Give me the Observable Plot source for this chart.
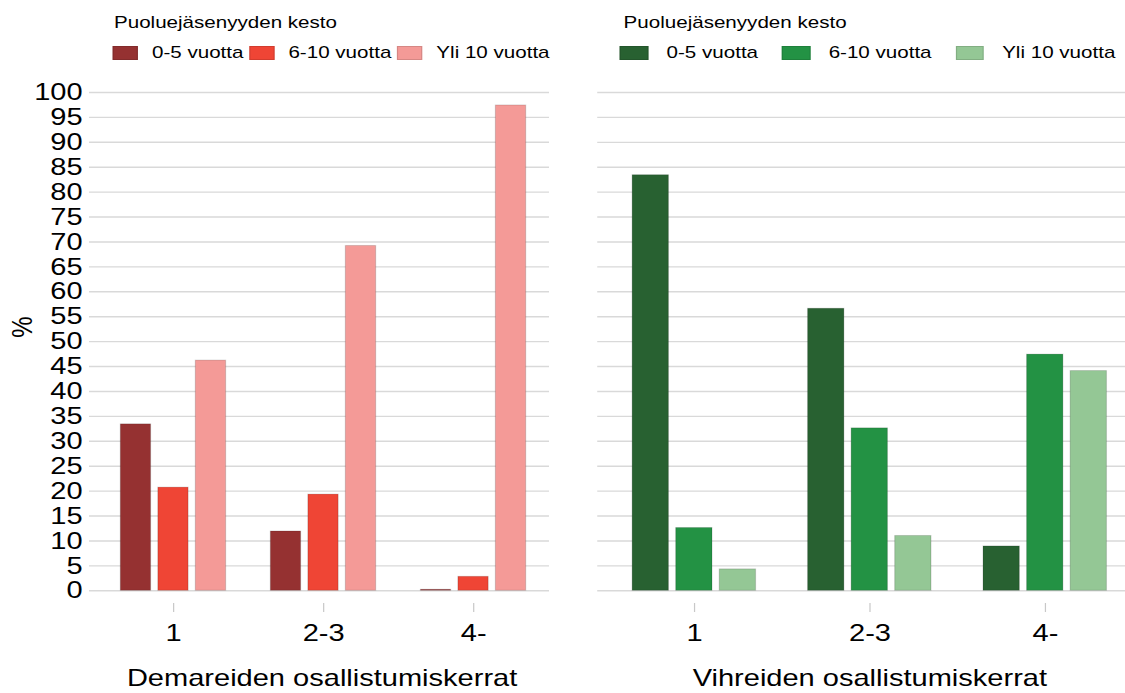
<!DOCTYPE html>
<html>
<head>
<meta charset="utf-8">
<script src="https://cdn.jsdelivr.net/npm/d3@7"></script>
<script src="https://cdn.jsdelivr.net/npm/@observablehq/plot@0.6"></script>
<style>
  html, body { margin: 0; padding: 0; background: #fff; overflow: hidden; }
  #stage { position: absolute; left: 0; top: 0; height: 693px; transform-origin: 0 0;
           font-family: "Liberation Sans", Arial, sans-serif; color: #000; }
  .panel { position: absolute; top: 0; }
  .panel svg { overflow: visible; position: absolute; left: 0; top: 0; }
  .legend { position: absolute; font-size: 17px; line-height: 18px; white-space: nowrap; }
  .legend .ltitle { height: 18px; }
  .legend .row { display: flex; align-items: center; height: 18px; margin-top: 12px; }
  .legend .item { display: flex; align-items: center; }
  .legend .sw { height: 14px; box-sizing: border-box; border: 1px solid rgba(0,0,0,0.12); }
</style>
</head>
<body>
<div id="stage"></div>
<script>
// ---- data ----
const groups = ["1", "2-3", "4-"];
const series = ["0-5 vuotta", "6-10 vuotta", "Yli 10 vuotta"];
const yTicks = [0, 5, 10, 15, 20, 25, 30, 35, 40, 45, 50, 55, 60, 65, 70, 75, 80, 85, 90, 95, 100];
const legendTitle = "Puoluejäsenyyden kesto";

const demari05 = [33.4, 11.9, 0.2];
const demari610 = [20.7, 19.3, 2.8];
const demariYli = [46.2, 69.2, 97.4];
const demariColors = ["#953131", "#ef4535", "#f49a97"];
const demariLabel = "Demareiden osallistumiskerrat";

const vihrea05 = [83.4, 56.6, 8.9];
const vihrea610 = [12.6, 32.6, 47.4];
const vihreaYli = [4.3, 11.0, 44.1];
const vihreaColors = ["#286131", "#239244", "#94c795"];
const vihreaLabel = "Vihreiden osallistumiskerrat";

// ---- layout (horizontal stretch of the whole drawing) ----
const S = 1.21;
const u = v => v / S;
const W = 1125, H = 693;
const stage = document.getElementById("stage");
stage.style.width = u(W) + "px";
stage.style.transform = `scaleX(${S})`;
const font = '"Liberation Sans", Arial, sans-serif';

function table(cols) {
  return groups.flatMap((g, i) => series.map((s, j) => ({group: g, series: s, value: cols[j][i]})));
}

function panel(o) {
  const data = table(o.cols);
  const common = {
    width: u(o.width), height: H,
    marginLeft: u(o.marginLeft), marginRight: u(o.marginRight), marginTop: 92, marginBottom: H - 590.3,
    style: {fontFamily: font, color: "#000", background: "transparent", overflow: "visible"}
  };
  // base layer: grid, y axis, titles
  const baseMarks = [
    Plot.ruleY(yTicks, {y: d => d, stroke: "#d9d9d9", strokeWidth: 1.4}),
    Plot.text([o.xLabel], {text: d => d, frameAnchor: "bottom", dy: 88, dx: u(o.labelDx),
                           fontSize: 24, lineAnchor: "middle", fill: "#000"})
  ];
  if (o.showY) {
    baseMarks.push(Plot.axisY({ticks: yTicks, tickSize: 0, tickPadding: u(7), fontSize: 24, label: null, fill: "#000"}));
    baseMarks.push(Plot.text(["%"], {text: d => d, frameAnchor: "left", dx: -u(67), dy: -4, rotate: -90,
                                     fontSize: 24, fill: "#000"}));
  }
  const base = Plot.plot({
    ...common,
    y: o.showY ? {domain: [0, 100]} : {domain: [0, 100], axis: null},
    marks: baseMarks
  });
  // bar layer: faceted grouped bars
  const bars = Plot.plot({
    ...common,
    fx: {domain: groups, range: o.fxRange.map(u), padding: 0, label: null},
    x: {domain: series, paddingInner: 0.18, paddingOuter: 0.59, axis: null},
    y: {domain: [0, 100], axis: null},
    color: {domain: series, range: o.colors},
    marks: [
      Plot.barY(data, {fx: "group", x: "series", y: "value", fill: "series",
                       stroke: "#000", strokeOpacity: 0.14, strokeWidth: 1}),
      Plot.axisFx({anchor: "bottom", tickSize: 9, tickPadding: 11, dy: 12.7, fontSize: 24,
                   stroke: "#c8c8c8", fill: "#000", label: null})
    ]
  });
  const div = document.createElement("div");
  div.className = "panel";
  div.style.left = u(o.left) + "px";
  div.style.width = u(o.width) + "px";
  div.style.height = H + "px";
  div.appendChild(base);
  div.appendChild(bars);
  stage.appendChild(div);

  // legend
  const lg = document.createElement("div");
  lg.className = "legend";
  lg.style.left = u(o.legendLeft) + "px";
  lg.style.top = "14px";
  const t = document.createElement("div");
  t.className = "ltitle";
  t.textContent = legendTitle;
  t.style.marginLeft = u(o.titleIndent) + "px";
  lg.appendChild(t);
  const row = document.createElement("div");
  row.className = "row";
  row.style.gap = u(o.itemGap) + "px";
  series.forEach((s, j) => {
    const it = document.createElement("div");
    it.className = "item";
    it.style.gap = u(o.swGap) + "px";
    const sw = document.createElement("div");
    sw.className = "sw";
    sw.style.width = u(o.swWidth) + "px";
    sw.style.background = o.colors[j];
    const tx = document.createElement("span");
    tx.textContent = s;
    it.appendChild(sw); it.appendChild(tx);
    row.appendChild(it);
  });
  lg.appendChild(row);
  stage.appendChild(lg);
}

panel({cols: [demari05, demari610, demariYli], colors: demariColors, xLabel: demariLabel,
       left: 0, width: 560, marginLeft: 89, marginRight: 11, fxRange: [96.75, 548.25],
       showY: true, labelDx: 2.5,
       legendLeft: 113, titleIndent: 1, swWidth: 25, swGap: 14, itemGap: 6});

panel({cols: [vihrea05, vihrea610, vihreaYli], colors: vihreaColors, xLabel: vihreaLabel,
       left: 560, width: 565, marginLeft: 37, marginRight: 0, fxRange: [45, 573],
       showY: false, labelDx: 8,
       legendLeft: 620, titleIndent: 3.6, swWidth: 28.6, swGap: 18, itemGap: 24});
</script>
</body>
</html>
